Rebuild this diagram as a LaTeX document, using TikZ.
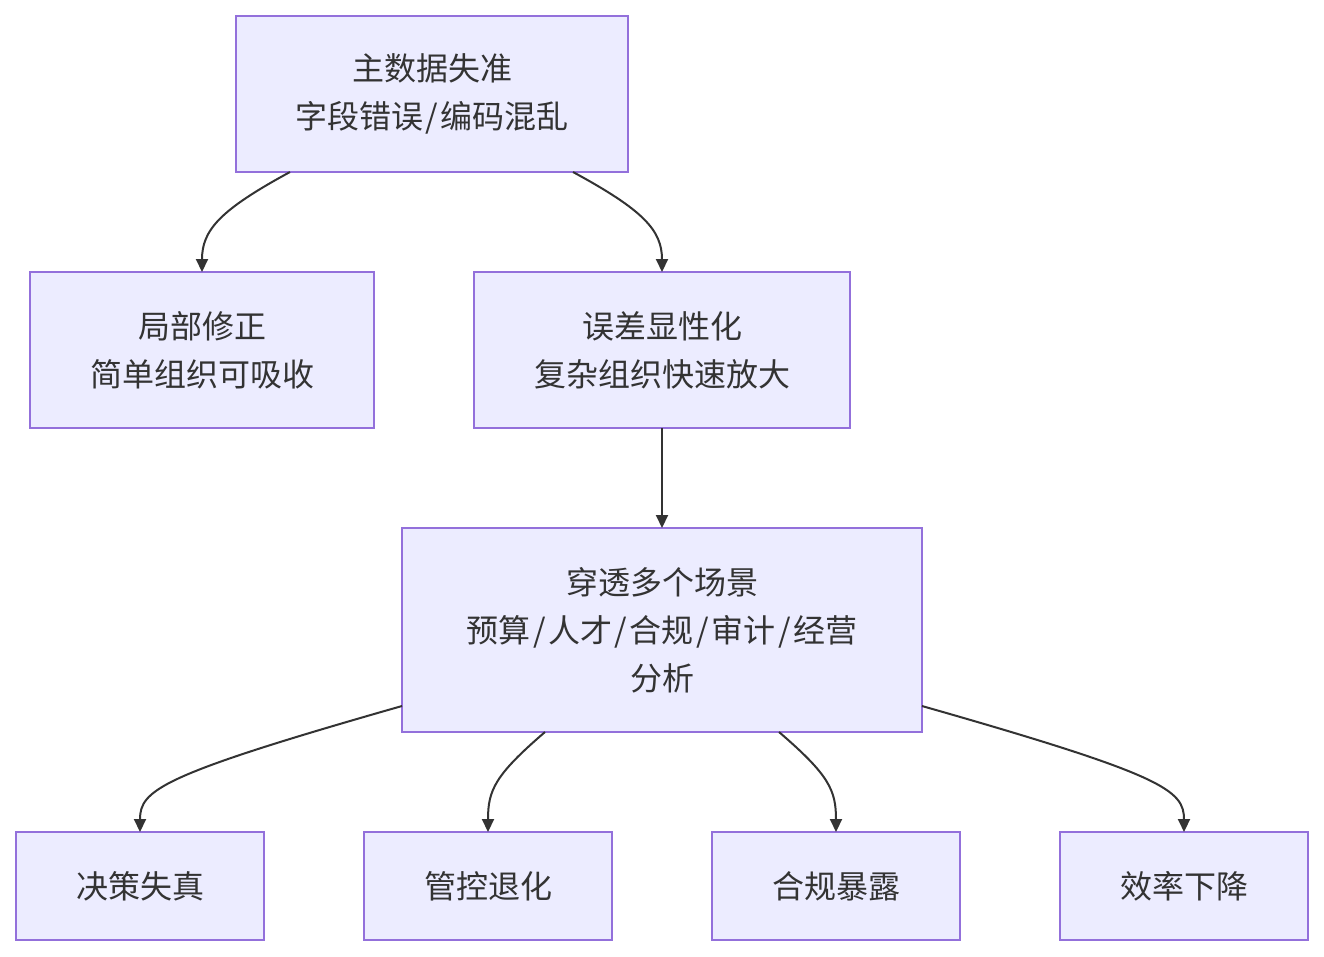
\documentclass[tikz,border=0pt]{standalone}
\usepackage{fontspec}
\setmainfont{Noto Sans CJK SC}
\usetikzlibrary{arrows.meta}
\definecolor{boxfill}{HTML}{ECECFF}
\definecolor{boxline}{HTML}{9370DB}
\definecolor{txt}{HTML}{333333}
\newcommand{\sepsl}{\hspace{2.5pt}/\hspace{2.5pt}}
\begin{document}
\begin{tikzpicture}[x=1pt,y=-1pt,
  box/.style={draw=boxline,fill=boxfill,line width=1.5pt,text=txt,align=center,
    font=\fontsize{32}{48}\selectfont,inner sep=0pt,outer sep=0pt},
  edge/.style={draw=txt,line width=2pt,-{Triangle[length=13pt,width=12pt]}}]
\useasboundingbox (0,0) rectangle (1324,956);
\fill[white] (0,0) rectangle (1324,956);
\node[box,minimum width=392pt,minimum height=156pt] (A) at (432,94) {主数据失准\\字段错误\sepsl 编码混乱};
\node[box,minimum width=344pt,minimum height=156pt] (B) at (202,350) {局部修正\\简单组织可吸收};
\node[box,minimum width=376pt,minimum height=156pt] (C) at (662,350) {误差显性化\\复杂组织快速放大};
\node[box,minimum width=520pt,minimum height=204pt] (D) at (662,630) {穿透多个场景\\预算\sepsl 人才\sepsl 合规\sepsl 审计\sepsl 经营\\分析};
\node[box,minimum width=248pt,minimum height=108pt] (E1) at (140,886) {决策失真};
\node[box,minimum width=248pt,minimum height=108pt] (E2) at (488,886) {管控退化};
\node[box,minimum width=248pt,minimum height=108pt] (E3) at (836,886) {合规暴露};
\node[box,minimum width=248pt,minimum height=108pt] (E4) at (1184,886) {效率下降};
\draw[edge] ([xshift=-142pt]A.south) .. controls +(-70,38) and +(0,-42) .. (B.north);
\draw[edge] ([xshift=141pt]A.south) .. controls +(70,38) and +(0,-42) .. (C.north);
\draw[edge] (C.south) -- (D.north);
\draw[edge] ([yshift=-76pt]D.west) .. controls +(-242,69) and +(0,-42) .. (E1.north);
\draw[edge] ([xshift=-117pt]D.south) .. controls +(-50,43) and +(0,-42) .. (E2.north);
\draw[edge] ([xshift=117pt]D.south) .. controls +(50,43) and +(0,-42) .. (E3.north);
\draw[edge] ([yshift=-76pt]D.east) .. controls +(242,69) and +(0,-42) .. (E4.north);
\end{tikzpicture}
\end{document}
